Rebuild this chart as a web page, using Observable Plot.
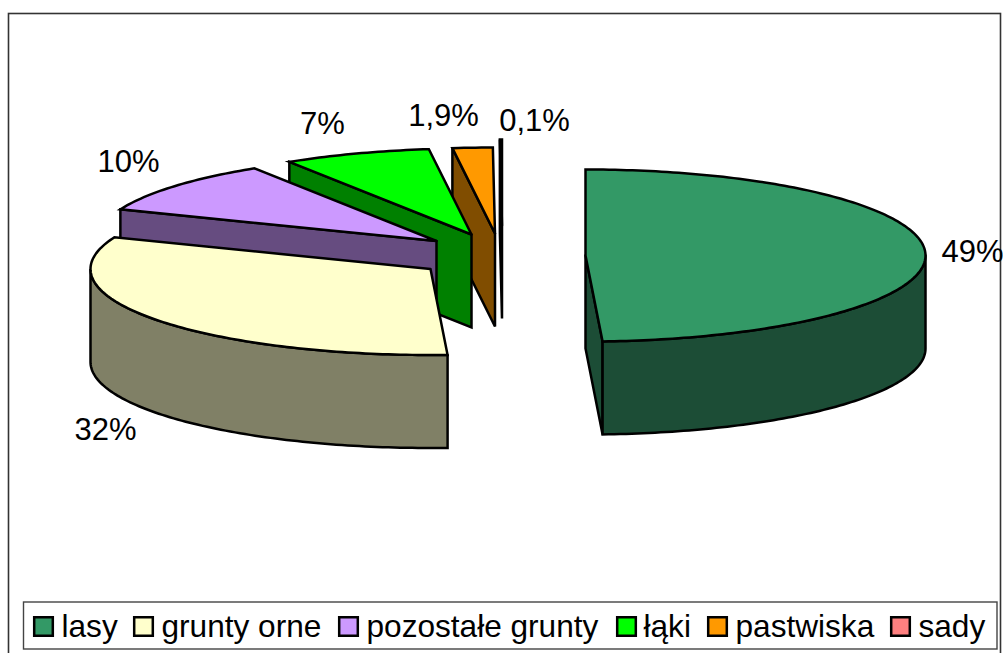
<!DOCTYPE html>
<html>
<head>
<meta charset="utf-8">
<script src="https://cdn.jsdelivr.net/npm/d3@7"></script>
<script src="https://cdn.jsdelivr.net/npm/@observablehq/plot@0.6"></script>
<style>
html,body{margin:0;padding:0;background:#fff;overflow:hidden}
svg{display:block}
</style>
</head>
<body>
<div id="chart"></div>
<script>
// Data
const categories = ["lasy", "grunty orne", "pozostałe grunty", "łąki", "pastwiska", "sady"];
const shares = [49.2, 31.8, 10, 7, 1.9, 0.1];
const shareLabels = ["49%", "32%", "10%", "7%", "1,9%", "0,1%"];

// Styles
const topColors = ["#339966", "#FFFFCC", "#CC99FF", "#00FF00", "#FF9900", "#FF8080"];
const sideColors = ["#1C4D36", "#808066", "#664C80", "#008000", "#804D00", "#804040"];

// Layout of the exploded 3D pie
const rx = 340, ry = 86, depth = 93;
const centerX = [585, 430, 436, 471, 494.5, 501.5];
const centerY = [255, 268.5, 240.5, 234, 233, 225];
const labelX = [972, 105, 128, 322, 443, 534];
const labelY = [252, 430, 162, 124, 116, 121];
const legendSwatchX = [43, 143, 348, 626, 717, 900];
const legendTextX = [61, 161, 366, 643, 735, 918];

const W = 1003, H = 653;
const rad = d => d * Math.PI / 180;

// Faces in painter's order, back to front: the pie's far slices first
const faces = [];
function pushFace(id, fill, pts) {
  pts.forEach(([x, y]) => faces.push({id, fill, x, y}));
  faces.push({id, fill, x: pts[0][0], y: pts[0][1]});
}
function rim(i, a, dy = 0) {
  return [centerX[i] + rx * Math.sin(rad(a)), centerY[i] - ry * Math.cos(rad(a)) + dy];
}
function arc(i, a0, a1, dy = 0) {
  const n = Math.max(1, Math.ceil(Math.abs(a1 - a0)));
  return d3.range(n + 1).map(k => rim(i, a0 + (a1 - a0) * k / n, dy));
}
const total = d3.sum(shares);
let cum = 0;
const slices = shares.map((v, i) => {
  const a0 = cum / total * 360;
  cum += v;
  return {i, a0, a1: cum / total * 360};
});
[...slices].reverse().forEach(({i, a0, a1}) => {
  const apex = [centerX[i], centerY[i]];
  const apexLow = [centerX[i], centerY[i] + depth];
  const radial = a => [apex, rim(i, a), rim(i, a, depth), apexLow];
  // radial faces turned toward the viewer
  if (a0 > 180 && a0 < 360) pushFace(`s${i}`, sideColors[i], radial(a0));
  if (a1 > 0 && a1 < 180) pushFace(`e${i}`, sideColors[i], radial(a1));
  // outer wall, only along the front half of the rim
  const w0 = Math.max(a0, 90), w1 = Math.min(a1, 270);
  if (w1 > w0) pushFace(`w${i}`, sideColors[i], [...arc(i, w0, w1), ...arc(i, w1, w0, depth)]);
  // top face
  pushFace(`t${i}`, topColors[i], [apex, ...arc(i, a0, a1)]);
});

const legend = categories.map((name, i) => ({
  name, fill: topColors[i], sx: legendSwatchX[i], tx: legendTextX[i]
}));
const labels = shareLabels.map((text, i) => ({text, x: labelX[i], y: labelY[i]}));

const plot = Plot.plot({
  width: W, height: H,
  margin: 0,
  x: {domain: [0, W], range: [0, W], axis: null},
  y: {domain: [0, H], range: [0, H], axis: null},
  color: {type: "identity"},
  style: {background: "#fff", fontFamily: "'Liberation Sans', Arial, sans-serif"},
  marks: [
    // chart area border
    Plot.rect([0], {x1: 8.5, x2: 1000.5, y1: 13.5, y2: 660, fill: "#fff", stroke: "#333", strokeWidth: 1.6}),
    Plot.line(faces, {
      x: "x", y: "y", z: "id", fill: "fill", stroke: "#000", strokeWidth: 2.5,
      strokeLinejoin: "miter", strokeMiterlimit: 4
    }),
    Plot.text(labels, {
      x: "x", y: "y", text: "text", fontSize: 31, fill: "#000",
      textAnchor: "middle", lineAnchor: "middle"
    }),
    // legend
    Plot.rect([0], {x1: 23.5, x2: 997, y1: 602, y2: 649, fill: "#fff", stroke: "#444", strokeWidth: 1.4}),
    Plot.dot(legend, {
      x: "sx", y: () => 626, symbol: "square", r: 10.5, fill: "fill", stroke: "#000", strokeWidth: 2.5
    }),
    Plot.text(legend, {
      x: "tx", y: () => 626, text: "name", fontSize: 31.6, fill: "#000",
      textAnchor: "start", lineAnchor: "middle"
    })
  ]
});
document.getElementById("chart").append(plot);
</script>
</body>
</html>
